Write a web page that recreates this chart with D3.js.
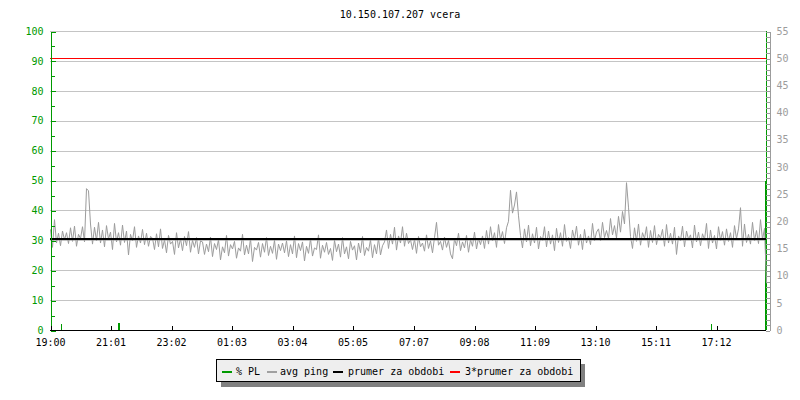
<!DOCTYPE html>
<html><head><meta charset="utf-8">
<script src="https://cdn.jsdelivr.net/npm/d3@7"></script>
<style>
body{margin:0;background:#fff}
svg text{font-family:"DejaVu Sans Mono","Liberation Mono",monospace;font-size:10px}
</style>
</head><body>
<svg id="c" width="800" height="400"></svg>
<script>
// ---------- data ----------
const title = "10.150.107.207 vcera";
const timeLabels = ["19:00","21:01","23:02","01:03","03:04","05:05","07:07","09:08","11:09","13:10","15:11","17:12"];
const plTicks = [0,10,20,30,40,50,60,70,80,90,100];
const plMinorTicks = [5,15,25,35,45,55,65,75,85,95];
const pingTicks = [0,5,10,15,20,25,30,35,40,45,50,55];
const sampleMinutes = 4;   // one ping sample every 4 minutes, starting 19:00
const pingMs = [
 18.5,15.2,20.3,16.0,17.8,15.5,18.2,16.6,17.9,15.9,18.8,16.3,19.1,15.4,17.6,16.8,19.0,16.2,
 26.0,25.6,
 19.5,15.8,18.9,16.4,19.8,16.0,18.4,15.3,19.2,16.7,18.0,14.8,19.6,16.2,
 17.9,15.6,19.3,16.1,18.2,13.8,17.6,16.4,19.0,15.2,17.3,16.0,18.5,15.7,17.8,15.4,17.2,
 16.9,14.8,17.7,15.3,18.6,15.0,16.6,14.2,17.4,15.8,16.3,13.9,17.9,15.1,16.8,14.6,17.2,15.5,18.1,14.3,16.5,15.2,17.0,14.0,16.4,
 16.2,13.9,15.8,14.4,17.1,13.5,15.9,14.8,16.6,12.9,15.3,14.2,17.4,13.6,15.7,14.9,16.3,13.2,15.1,14.5,17.6,13.8,15.6,14.0,16.8,12.6,15.2,14.7,16.1,13.4,15.9,14.3,17.0,13.7,15.4,14.1,16.5,13.0,15.8,14.6,16.0,
 14.2,16.4,13.5,15.7,14.0,17.3,13.3,15.9,14.6,16.2,12.7,15.4,14.1,16.8,13.6,15.1,14.8,17.5,13.2,15.6,14.3,16.1,13.9,15.0,12.8,16.5,14.4,15.8,13.4,17.0,14.0,15.3,13.1,16.3,14.7,15.5,12.9,16.0,14.2,17.2,13.7,15.2,14.5,16.6,13.3,15.7,14.0,16.9,13.8,15.5,
 16.2,18.4,15.0,17.6,15.8,18.9,14.7,17.3,16.0,19.0,15.4,17.8,15.9,16.6,
 14.8,16.7,14.1,17.2,15.3,16.0,14.5,17.5,15.0,16.4,14.2,17.0,19.8,15.6,16.3,14.7,17.1,15.2,16.5,14.0,13.1,16.8,15.5,17.8,14.6,16.2,15.1,17.4,14.3,16.6,15.4,18.0,14.9,16.9,15.7,17.3,15.0,
 18.3,15.8,19.0,16.4,17.9,15.2,19.4,16.6,18.1,15.9,18.8,
 20.0,25.7,21.5,23.0,25.4,21.0,
 17.4,15.1,18.6,16.2,19.3,15.5,17.7,16.0,18.9,14.9,17.2,16.5,19.0,15.3,18.2,15.8,17.5,14.6,18.7,16.1,17.9,15.4,19.4,16.3,17.0,15.0,18.4,16.7,19.1,15.6,17.6,14.8,18.5,16.0,17.3,15.7,19.6,16.4,18.0,
 18.6,16.4,19.8,17.0,18.3,16.8,20.5,17.5,19.2,16.9,20.9,18.0,21.8,19.5,
 27.1,22.6,
 17.2,15.0,18.8,16.3,19.5,15.6,17.9,16.8,19.0,15.2,
 18.3,16.1,19.2,15.7,17.6,16.9,18.5,15.4,19.4,16.0,
 17.8,15.8,18.9,13.9,17.3,16.4,19.1,15.3,18.2,16.7,
 17.5,15.1,19.3,16.2,18.0,15.5,17.7,16.6,19.6,15.0,
 18.4,16.0,17.4,14.9,19.0,16.5,18.1,15.6,18.6,16.3,
 17.9,15.2,19.2,16.8,18.6,22.5,15.4,19.5,16.1,17.6,
 15.8,19.8,16.4,18.3,15.9,20.3,16.6,18.7,
 8.6
];
const plMinutes = [22,136,138,1322,1430,1432];
const plPercent = [2,2.3,2.3,2,50,100];
const meanPingMs = 16.7;
const tripleMeanPingMs = 50.1;
const legendLabels = ["% PL","avg ping","prumer za obdobi","3*prumer za obdobi"];
const legendColors = ["#009900","#a0a0a0","#000000","#ff0000"];

// ---------- drawing ----------
const svg = d3.select("#c");
const green = "#009900", gray = "#9c9c9c", grid = "#c4c4c4";
const x = d3.scaleLinear().domain([0,1440]).range([50,770]);
const yL = d3.scaleLinear().domain([0,100]).range([330,31]);
const yR = d3.scaleLinear().domain([0,55]).range([330,31]);
const plotRight = 766;
const labelMinutes = s => { const [h,m] = s.split(":").map(Number); return ((h*60+m) - 19*60 + 1440) % 1440; };

svg.append("text").attr("x",400).attr("y",17.5).attr("text-anchor","middle").attr("fill","#000").text(title);

// gridlines
svg.append("g").selectAll("line").data(plTicks.filter(d=>d>0)).join("line")
  .attr("x1",50).attr("x2",plotRight)
  .attr("y1",d=>Math.round(yL(d))+0.5).attr("y2",d=>Math.round(yL(d))+0.5)
  .attr("stroke",grid).attr("shape-rendering","crispEdges");

// 3*mean line
svg.append("line").attr("x1",50).attr("x2",plotRight)
  .attr("y1",Math.round(yR(tripleMeanPingMs))+0.5).attr("y2",Math.round(yR(tripleMeanPingMs))+0.5)
  .attr("stroke","#ff0000").attr("shape-rendering","crispEdges");

// packet loss impulses
svg.append("g").selectAll("line").data(plMinutes).join("line")
  .attr("x1",(d)=>Math.round(x(d))+0.5).attr("x2",(d)=>Math.round(x(d))+0.5)
  .attr("y1",yL(0)).attr("y2",(d,i)=>yL(plPercent[i]))
  .attr("stroke",green).attr("stroke-width",1.5).attr("shape-rendering","crispEdges");

// ping line
const line = d3.line().x((d,i)=>x(i*sampleMinutes)+0.5).y(d=>yR(d));
svg.append("path").datum(pingMs).attr("d",line).attr("fill","none")
  .attr("stroke",gray).attr("stroke-width",1);

// mean line
svg.append("line").attr("x1",50).attr("x2",plotRight)
  .attr("y1",yR(meanPingMs)).attr("y2",yR(meanPingMs))
  .attr("stroke","#000").attr("stroke-width",2).attr("shape-rendering","crispEdges");

// left axis
const gl = svg.append("g").attr("transform","translate(50.5,0)")
  .call(d3.axisLeft(yL).tickValues(plTicks).tickSize(-5).tickSizeOuter(0).tickPadding(7));
const glm = svg.append("g").attr("transform","translate(50.5,0)")
  .call(d3.axisLeft(yL).tickValues(plMinorTicks).tickSize(-4).tickSizeOuter(0).tickFormat(""));
[gl,glm].forEach(g=>{
  g.attr("font-family",null).attr("font-size",null).style("color",green);
  g.selectAll("line,path").attr("shape-rendering","crispEdges");
  g.selectAll(".tick line").attr("transform","translate(0,0.5)");
});

// right axis
const gr = svg.append("g").attr("transform","translate(769.5,0)")
  .call(d3.axisRight(yR).tickValues(d3.range(0,56)).tickSize(-4).tickSizeOuter(0).tickPadding(7)
    .tickFormat(d=>pingTicks.includes(d)?String(d):""));
gr.attr("font-family",null).attr("font-size",null).style("color",gray);
gr.selectAll("line,path").attr("shape-rendering","crispEdges");
gr.selectAll(".tick line").attr("transform","translate(0,0.5)");

// bottom axis
const gb = svg.append("g").attr("transform","translate(0,330.5)")
  .call(d3.axisBottom(x).tickValues(timeLabels.map(labelMinutes)).tickSize(-5).tickSizeOuter(0).tickPadding(8)
    .tickFormat((d,i)=>timeLabels[i]));
gb.attr("font-family",null).attr("font-size",null).style("color","#000");
gb.select(".domain").remove();
gb.selectAll(".tick line").attr("transform","translate(0.5,0)").attr("shape-rendering","crispEdges");
svg.append("line").attr("x1",50).attr("x2",plotRight).attr("y1",330.5).attr("y2",330.5)
  .attr("stroke","#000").attr("shape-rendering","crispEdges");

// legend
const lg = svg.append("g");
lg.append("rect").attr("x",221).attr("y",364).attr("width",364).attr("height",23).attr("fill","#808080");
lg.append("rect").attr("x",216.5).attr("y",359.5).attr("width",364).attr("height",22)
  .attr("fill","#eeeeee").attr("stroke","#000").attr("shape-rendering","crispEdges");
const legendSwatchX = [222,267,333,450];
const legendTextX = [236,280,348,465];
legendLabels.forEach((t,i)=>{
  lg.append("line").attr("x1",legendSwatchX[i]).attr("x2",legendSwatchX[i]+10)
    .attr("y1",371.5).attr("y2",371.5).attr("stroke",legendColors[i]).attr("stroke-width",2)
    .attr("shape-rendering","crispEdges");
  lg.append("text").attr("x",legendTextX[i]).attr("y",374.5).attr("fill","#000").text(t);
});
</script>
</body></html>
